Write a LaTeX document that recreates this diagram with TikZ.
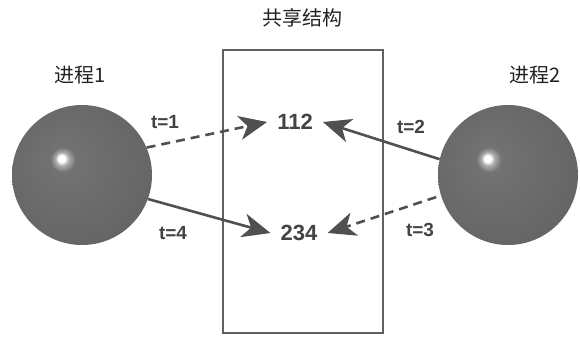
\documentclass[tikz,border=0pt]{standalone}
\usepackage{fontspec}
\newfontfamily\cjk{Noto Sans CJK SC}
\newfontfamily\labfont{Liberation Sans}
\usetikzlibrary{positioning,arrows.meta}
\definecolor{ink}{HTML}{222222}
\definecolor{wire}{HTML}{505050}
\definecolor{frame}{HTML}{606060}
\definecolor{sphmid}{HTML}{727272}
\definecolor{sphedge}{HTML}{3C3C3C}
% shaded ball with a small bright spot up left
\pgfdeclareradialshading{procball}{\pgfpoint{-7.5bp}{6bp}}{%
  color(0bp)=(white); color(1.2bp)=(white); color(2.4bp)=(sphmid!60!white);
  color(4.5bp)=(sphmid); color(30bp)=(sphmid!88!black);
  color(44bp)=(sphedge); color(50bp)=(sphedge)}

\begin{document}
\begin{tikzpicture}[x=1pt, y=-1pt,
    proc/.style={circle, minimum size=140pt, inner sep=0pt, shading=procball},
    title/.style={font=\cjk\fontsize{20}{24}\selectfont, text=ink},
    value/.style={font=\labfont\bfseries\fontsize{22}{26}\selectfont, text=ink!85!white, inner xsep=10pt},
    tlab/.style={font=\labfont\bfseries\fontsize{19}{22}\selectfont, text=ink!85!white},
    arrow/.style={-{Stealth[length=28pt, width=24pt, inset=8pt]}, line width=2.6pt, draw=wire},
    later/.style={arrow, dash pattern=on 9pt off 6pt}
]
    \useasboundingbox (0,0) rectangle (580,338);

    % Shared structure
    \node[draw=frame, line width=1.8pt, minimum width=160pt, minimum height=283pt] (shared) at (303,191.5) {};
    \node[title] (sharedlab) at (302,18) {共享结构};
    \node[value] (v112) at (295,122) {112};
    \node[value] (v234) at (299,233) {234};

    % Processes
    \node[proc] (p1) at (82,175) {};
    \node[proc] (p2) at (508,175) {};
    \node[title] (p1lab) at (80,75) {进程1};
    \node[title] (p2lab) at (535,75) {进程2};

    % Accesses over time
    \draw[later] (p1.23) -- (v112.west);
    \draw[arrow] (p1.-20) -- (v234.west);
    \draw[arrow] (p2.167) -- (v112.east);
    \draw[later, shorten <=5pt] (p2.197) -- (v234.east);

    \node[tlab] (t1) at (165,122) {t=1};
    \node[tlab] (t2) at (411,127) {t=2};
    \node[tlab] (t3) at (420,230) {t=3};
    \node[tlab] (t4) at (173,233) {t=4};
\end{tikzpicture}
\end{document}
